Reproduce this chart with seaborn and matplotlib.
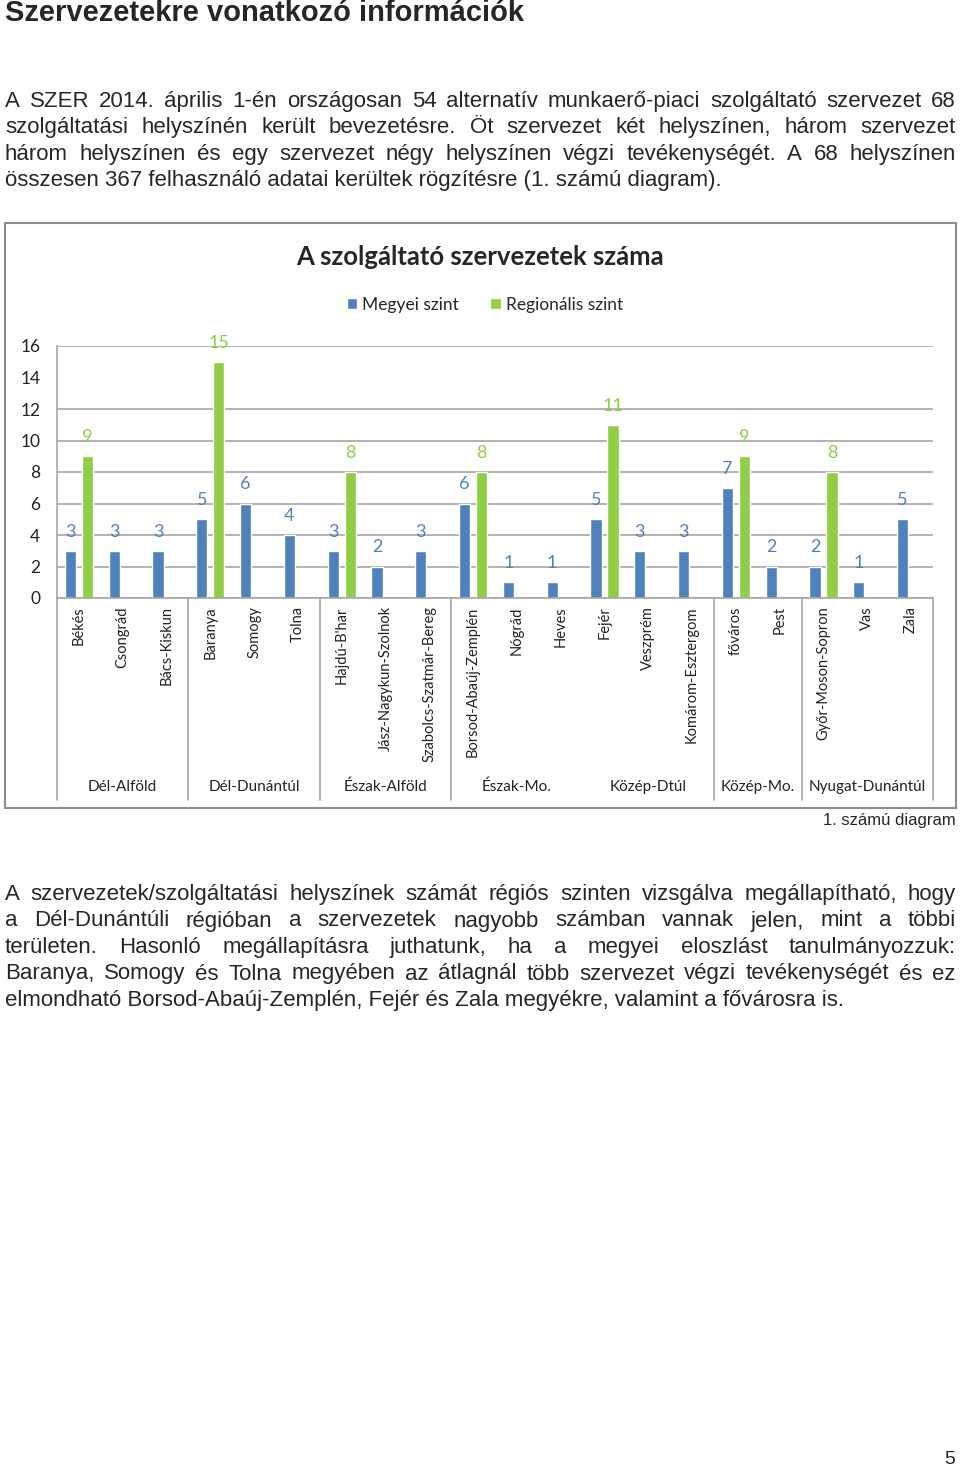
#!/usr/bin/env python3

import pandas as pd
import seaborn as sns
import matplotlib.pyplot as plt
from matplotlib.patches import Rectangle
import matplotlib.transforms as mtransforms

# chart data
counties = ["Békés", "Csongrád", "Bács-Kiskun", "Baranya", "Somogy", "Tolna",
            "Hajdú-B'har", "Jász-Nagykun-Szolnok", "Szabolcs-Szatmár-Bereg",
            "Borsod-Abaúj-Zemplén", "Nógrád", "Heves", "Fejér", "Veszprém",
            "Komárom-Esztergom", "főváros", "Pest", "Győr-Moson-Sopron",
            "Vas", "Zala"]
megyei = [3, 3, 3, 5, 6, 4, 3, 2, 3, 6, 1, 1, 5, 3, 3, 7, 2, 2, 1, 5]
regionalis = [9, None, None, 15, None, None, 8, None, None, 8, None, None,
              11, None, None, 9, None, 8, None, None]
regions = ["Dél-Alföld", "Dél-Dunántúl", "Észak-Alföld", "Észak-Mo.",
           "Közép-Dtúl", "Közép-Mo.", "Nyugat-Dunántúl"]
region_sizes = [3, 3, 3, 3, 3, 2, 3]
series = ["Megyei szint", "Regionális szint"]
colors = ["#4F81BD", "#8FCE45"]

para1 = [
    "A SZER 2014. április 1-én országosan 54 alternatív munkaerő-piaci szolgáltató szervezet 68",
    "szolgáltatási helyszínén került bevezetésre. Öt szervezet két helyszínen, három szervezet",
    "három helyszínen és egy szervezet négy helyszínen végzi tevékenységét. A 68 helyszínen",
    "összesen 367 felhasználó adatai kerültek rögzítésre (1. számú diagram).",
]
para2 = [
    "A szervezetek/szolgáltatási helyszínek számát régiós szinten vizsgálva megállapítható, hogy",
    "a Dél-Dunántúli régióban a szervezetek nagyobb számban vannak jelen, mint a többi",
    "területen. Hasonló megállapításra juthatunk, ha a megyei eloszlást tanulmányozzuk:",
    "Baranya, Somogy és Tolna megyében az átlagnál több szervezet végzi tevékenységét és ez",
    "elmondható Borsod-Abaúj-Zemplén, Fejér és Zala megyékre, valamint a fővárosra is.",
]

rows = []
for c, m, r in zip(counties, megyei, regionalis):
    rows.append({"county": c, "level": series[0], "value": m})
    if r is not None:
        rows.append({"county": c, "level": series[1], "value": r})
df = pd.DataFrame(rows)

sns.set_theme(style="white")
plt.rcParams['font.family'] = ['Lato', 'DejaVu Sans']

W, H = 960, 1468
fig = plt.figure(figsize=(W / 100, H / 100), dpi=100)
BODY = ['Liberation Sans', 'DejaVu Sans']


def fy(px):
    return 1 - px / H


def justify(lines, base0, dy, size):
    renderer = fig.canvas.get_renderer()
    x0, x1 = 5, 956
    for i, line in enumerate(lines):
        y = fy(base0 + i * dy)
        if i == len(lines) - 1:
            fig.text(x0 / W, y, line, fontsize=size, family=BODY, va="baseline")
            continue
        words = line.split()
        texts = [fig.text(0, y, w, fontsize=size, family=BODY, va="baseline")
                 for w in words]
        widths = [t.get_window_extent(renderer).width for t in texts]
        gap = (x1 - x0 - sum(widths)) / (len(words) - 1)
        x = x0
        for t, w in zip(texts, widths):
            t.set_x(x / W)
            x += w + gap


fig.text(5 / W, fy(21), "Szervezetekre vonatkozó információk", fontsize=21,
         family=BODY, weight="bold", va="baseline")
justify(para1, 107, 26.3, 16)
justify(para2, 900, 26.5, 16)
fig.text(956 / W, fy(825), "1. számú diagram", fontsize=12, family=BODY,
         ha="right", va="baseline")
fig.text(950 / W, fy(1464), "5", fontsize=14, family=BODY, ha="center",
         va="baseline")

# chart frame
fig.patches.append(Rectangle((5 / W, fy(808)), 951 / W, 585 / H,
                             transform=fig.transFigure, fill=False,
                             edgecolor="#8C8C8C", lw=1.5))
fig.text(480 / W, fy(257), "A szolgáltató szervezetek száma", fontsize=18.5,
         weight="bold", ha="center", va="center")

ax = fig.add_axes([57 / W, fy(598), 876 / W, 252 / H])
sns.barplot(data=df, x="county", y="value", hue="level", order=counties,
            hue_order=series, palette=colors, width=0.78, gap=0.35,
            saturation=1, ax=ax, legend=True)

ax.set_ylim(0, 16)
ax.set_yticks(range(0, 17, 2))
ax.set_xlim(-0.5, len(counties) - 0.5)
ax.grid(axis="y", color="#A6A6A6", lw=1.2)
ax.set_axisbelow(True)
ax.yaxis.get_gridlines()[7].set_visible(False)
ax.tick_params(axis="y", length=0, pad=12, labelsize=12.5, labelcolor="#222222")
ax.tick_params(axis="x", length=0, pad=6, labelsize=10.5, labelcolor="#222222")
ax.set_xticks(range(len(counties)))
ax.set_xticklabels(counties, rotation=90)
ax.set_xlabel("")
ax.set_ylabel("")
for side in ["top", "right"]:
    ax.spines[side].set_visible(False)
for side in ["left", "bottom"]:
    ax.spines[side].set_color("#A6A6A6")
    ax.spines[side].set_linewidth(1.2)

for cont, col in zip(ax.containers, colors):
    ax.bar_label(cont, padding=8, color=col, fontsize=13)

# region separators and labels
trans = mtransforms.blended_transform_factory(ax.transData, ax.transAxes)
start = 0
bounds = [-0.5]
for name, n in zip(regions, region_sizes):
    ax.text(start + (n - 1) / 2, -0.75, name, transform=trans, ha="center",
            va="center", fontsize=11, color="#222222")
    start += n
    bounds.append(start - 0.5)
for i, b in enumerate(bounds):
    if i == 4:
        continue
    ax.plot([b, b], [0, -0.80], transform=trans, color="#A6A6A6", lw=1.2,
            clip_on=False)

handles, labels = ax.get_legend_handles_labels()
ax.legend(handles, labels, loc="center", bbox_to_anchor=(485 / W, fy(305)),
          bbox_transform=fig.transFigure, ncol=2, frameon=False,
          fontsize=12.5, handlelength=0.6, handleheight=0.6,
          handletextpad=0.3, columnspacing=1.8)

fig.savefig("out.png", dpi=100)
